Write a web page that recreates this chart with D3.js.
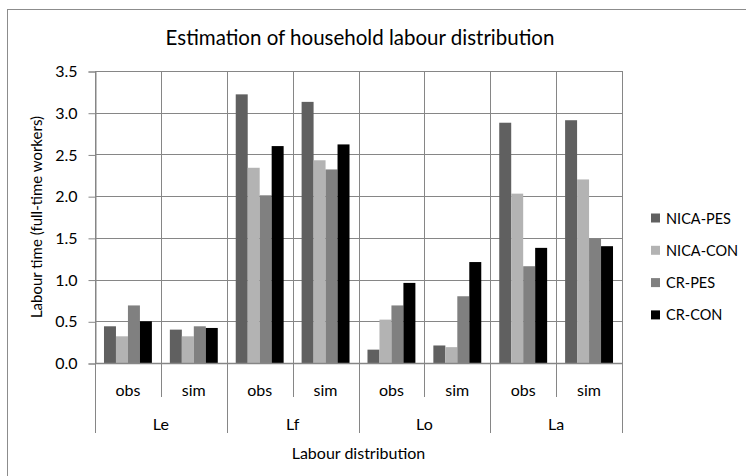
<!DOCTYPE html>
<html>
<head>
<meta charset="utf-8">
<script src="https://cdn.jsdelivr.net/npm/d3@7"></script>
<style>
  html, body { margin: 0; padding: 0; background: #fff; }
  svg text { font-family: Lato, "Open Sans", sans-serif; fill: #000; }
</style>
</head>
<body>
<svg id="chart" width="746" height="476"></svg>
<script>
// Labour categories, each observed and simulated
const groups = ["Le", "Lf", "Lo", "La"];
const subGroups = ["obs", "sim"];
const seriesNames = ["NICA-PES", "NICA-CON", "CR-PES", "CR-CON"];
const seriesColors = ["#606060", "#b3b3b3", "#808080", "#000000"];

// Values in order: Le obs, Le sim, Lf obs, Lf sim, Lo obs, Lo sim, La obs, La sim
const nicaPes = [0.44, 0.40, 3.22, 3.13, 0.16, 0.21, 2.88, 2.91];
const nicaCon = [0.32, 0.32, 2.34, 2.43, 0.52, 0.19, 2.03, 2.20];
const crPes   = [0.69, 0.44, 2.01, 2.32, 0.69, 0.80, 1.16, 1.49];
const crCon   = [0.50, 0.42, 2.60, 2.62, 0.96, 1.21, 1.38, 1.40];

const yTicks = [0, 0.5, 1.0, 1.5, 2.0, 2.5, 3.0, 3.5];

const seriesValues = [nicaPes, nicaCon, crPes, crCon];
const keys = [];
groups.forEach(g => subGroups.forEach(s => keys.push(g + "|" + s)));

const rows = keys.map((k, i) => {
  const r = { key: k };
  seriesNames.forEach((n, j) => { r[n] = seriesValues[j][i]; });
  return r;
});

const svg = d3.select("#chart");
const plot = { left: 95, right: 622, top: 71, bottom: 363 };
const gridColor = "#868686";

// Outer chart frame
svg.append("rect")
  .attr("x", 7.5).attr("y", 9.5)
  .attr("width", 760).attr("height", 500)
  .attr("fill", "none").attr("stroke", "#8c8c8c").attr("stroke-width", 1);

const x = d3.scaleBand().domain(keys).range([plot.left, plot.right]).paddingInner(0).paddingOuter(0);
const x1 = d3.scaleBand().domain(seriesNames).range([0, x.bandwidth()]).paddingInner(0).paddingOuter(0.75);
const y = d3.scaleLinear().domain([0, 3.5]).range([plot.bottom, plot.top]);

// Horizontal gridlines
svg.append("g").selectAll("line").data(yTicks).join("line")
  .attr("x1", plot.left).attr("x2", plot.right)
  .attr("y1", d => Math.round(y(d)) + 0.5).attr("y2", d => Math.round(y(d)) + 0.5)
  .attr("stroke", gridColor).attr("stroke-width", 1);

// Vertical gridlines at category boundaries, extended into the two-level axis
const bounds = keys.map(k => x(k)).concat([x(keys[keys.length - 1]) + x.bandwidth()]);
svg.append("g").selectAll("line").data(bounds).join("line")
  .attr("x1", d => Math.round(d) + 0.5).attr("x2", d => Math.round(d) + 0.5)
  .attr("y1", plot.top)
  .attr("y2", (d, i) => (i % 2 === 0 ? 433 : 397))
  .attr("stroke", gridColor).attr("stroke-width", 1);

// Bars
const barG = svg.append("g");
rows.forEach(r => {
  barG.append("g").attr("transform", `translate(${x(r.key)},0)`)
    .selectAll("rect").data(seriesNames).join("rect")
    .attr("x", n => x1(n))
    .attr("width", x1.bandwidth())
    .attr("y", n => y(r[n]))
    .attr("height", n => y(0) - y(r[n]))
    .attr("fill", (n, j) => seriesColors[j]);
});

// Y axis
const yAxis = svg.append("g")
  .attr("transform", `translate(${plot.left + 0.5},0.5)`)
  .call(d3.axisLeft(y).tickValues(yTicks).tickFormat(d3.format(".1f")).tickSize(7).tickPadding(11));
yAxis.select(".domain").attr("stroke", gridColor);
yAxis.selectAll(".tick line").attr("stroke", gridColor);
yAxis.selectAll(".tick text").style("font-size", "16px").attr("fill", "#000");

// X axis baseline
svg.append("line")
  .attr("x1", plot.left).attr("x2", plot.right)
  .attr("y1", plot.bottom + 0.5).attr("y2", plot.bottom + 0.5)
  .attr("stroke", gridColor).attr("stroke-width", 1.5);

// Inner category labels (obs / sim)
svg.append("g").selectAll("text").data(keys).join("text")
  .attr("x", k => x(k) + x.bandwidth() / 2)
  .attr("y", 389)
  .attr("text-anchor", "middle").attr("dominant-baseline", "central")
  .style("font-size", "16px")
  .text(k => k.split("|")[1]);

// Outer category labels
svg.append("g").selectAll("text").data(groups).join("text")
  .attr("x", g => x(g + "|obs") + x.bandwidth())
  .attr("y", 423)
  .attr("text-anchor", "middle").attr("dominant-baseline", "central")
  .style("font-size", "16px")
  .text(g => g);

// Axis titles
svg.append("text")
  .attr("x", (plot.left + plot.right) / 2).attr("y", 452)
  .attr("text-anchor", "middle").attr("dominant-baseline", "central")
  .style("font-size", "16px")
  .text("Labour distribution");

svg.append("text")
  .attr("transform", `translate(36,${(plot.top + plot.bottom) / 2}) rotate(-90)`)
  .attr("text-anchor", "middle").attr("dominant-baseline", "central")
  .style("font-size", "15px")
  .text("Labour time (full-time workers)");

// Chart title
svg.append("text")
  .attr("x", 360).attr("y", 37)
  .attr("text-anchor", "middle").attr("dominant-baseline", "central")
  .style("font-size", "20.5px")
  .text("Estimation of household labour distribution");

// Legend
const legend = svg.append("g").selectAll("g").data(seriesNames).join("g")
  .attr("transform", (n, i) => `translate(651,${218 + i * 32.3})`);
legend.append("rect")
  .attr("x", 0).attr("y", -4.5).attr("width", 9).attr("height", 9)
  .attr("fill", (n, i) => seriesColors[i]);
legend.append("text")
  .attr("x", 15).attr("y", 0)
  .attr("dominant-baseline", "central")
  .style("font-size", "14.5px")
  .text(n => n);
</script>
</body>
</html>
